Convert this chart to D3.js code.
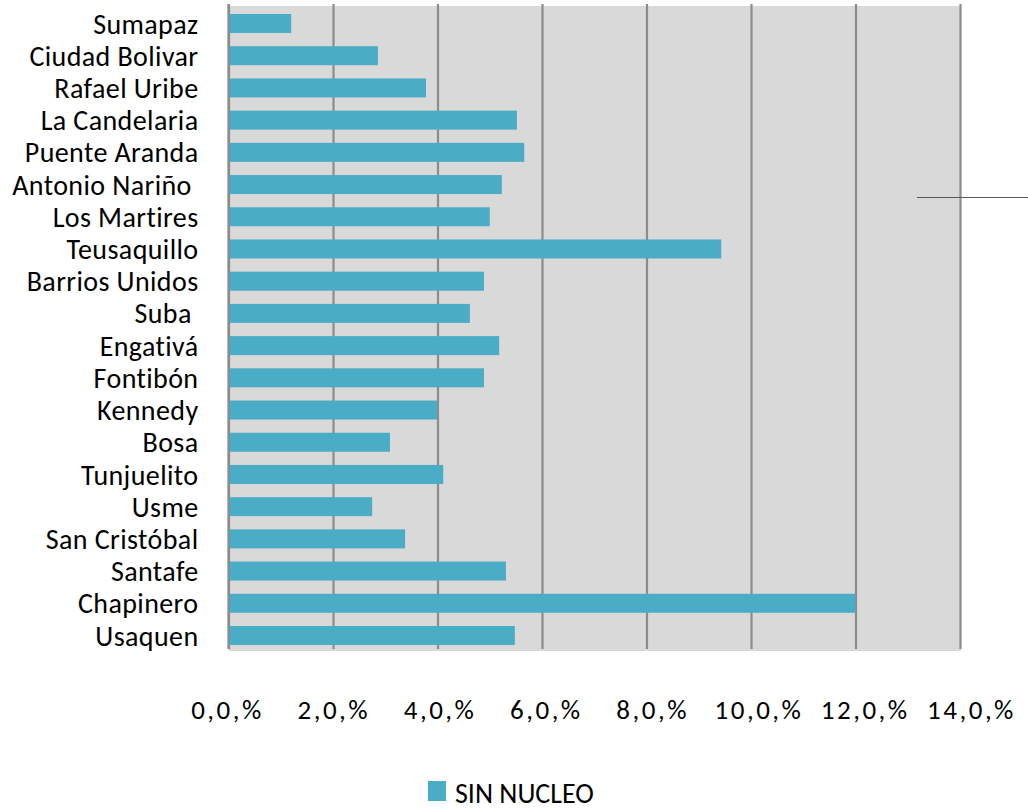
<!DOCTYPE html>
<html>
<head>
<meta charset="utf-8">
<script src="https://cdn.jsdelivr.net/npm/d3@7"></script>
<style>
  html, body { margin: 0; padding: 0; background: #ffffff; }
  svg { display: block; }
  text { font-family: Carlito, Lato, "Open Sans", sans-serif; fill: #000; }
</style>
</head>
<body>
<svg id="chart" width="1028" height="810"></svg>
<script>
const categories = ["Sumapaz", "Ciudad Bolivar", "Rafael Uribe", "La Candelaria", "Puente Aranda",
  "Antonio Nariño ", "Los Martires", "Teusaquillo", "Barrios Unidos", "Suba ",
  "Engativá", "Fontibón", "Kennedy", "Bosa", "Tunjuelito",
  "Usme", "San Cristóbal", "Santafe", "Chapinero", "Usaquen"];
const sinNucleo = [1.20, 2.86, 3.78, 5.52, 5.66,
  5.23, 5.00, 9.43, 4.89, 4.62,
  5.18, 4.89, 3.99, 3.09, 4.11,
  2.75, 3.38, 5.31, 12.0, 5.48];
const tickValues = [0, 2, 4, 6, 8, 10, 12, 14];
const tickLabels = ["0,0,%", "2,0,%", "4,0,%", "6,0,%", "8,0,%", "10,0,%", "12,0,%", "14,0,%"];
const seriesName = "SIN NUCLEO";

const svg = d3.select("#chart");
const plotLeft = 228.5, plotRight = 960, plotTop = 7.4, plotBottom = 651.6;
const FONT = "Carlito, Lato, 'Open Sans', sans-serif";

const x = d3.scaleLinear().domain([0, 14]).range([plotLeft, plotRight]);
// tick labels in the original are spread slightly wider than the gridlines
const xLabel = d3.scaleLinear().domain([0, 14]).range([227, 971]);
const y = d3.scaleBand().domain(categories).range([plotTop, plotBottom]).paddingInner(0.41).paddingOuter(0.205);

// plot background
svg.append("rect")
  .attr("x", plotLeft).attr("y", 6)
  .attr("width", plotRight - plotLeft + 1).attr("height", 645)
  .attr("fill", "#d9d9d9");

// gridlines
svg.append("g")
  .attr("transform", `translate(0,${649})`)
  .call(d3.axisBottom(x).tickValues(tickValues).tickSize(0).tickFormat(""))
  .call(g => g.select(".domain").remove())
  .call(g => g.selectAll(".tick line")
      .attr("y2", -645)
      .attr("stroke", "#8c8c8c").attr("stroke-width", 2.2));

// bars
svg.append("g").selectAll("rect")
  .data(categories)
  .join("rect")
  .attr("x", x(0))
  .attr("y", d => y(d))
  .attr("width", (d, i) => x(sinNucleo[i]) - x(0))
  .attr("height", y.bandwidth())
  .attr("fill", "#4bacc6");

// left axis line
svg.append("line")
  .attr("x1", x(0)).attr("x2", x(0))
  .attr("y1", 4).attr("y2", 649)
  .attr("stroke", "#8c8c8c").attr("stroke-width", 2.2);

// category labels
svg.append("g")
  .attr("transform", `translate(198.5,0)`)
  .call(d3.axisLeft(y).tickSize(0).tickPadding(0))
  .call(g => g.select(".domain").remove())
  .call(g => g.selectAll("text")
      .attr("font-size", 28)
      .attr("dy", "0.36em")
      .attr("letter-spacing", 0.4)
      .style("font-family", FONT)
      .attr("fill", "#000")
      .style("white-space", "pre"));

// x tick labels
svg.append("g")
  .attr("transform", `translate(0,719)`)
  .call(d3.axisBottom(xLabel).tickValues(tickValues).tickSize(0).tickPadding(0)
      .tickFormat((d, i) => tickLabels[i]))
  .call(g => g.select(".domain").remove())
  .call(g => g.selectAll("text")
      .attr("font-size", 27)
      .attr("dy", 0)
      .attr("letter-spacing", 2.5)
      .style("font-family", FONT)
      .attr("fill", "#000"));

// stray line
svg.append("line")
  .attr("x1", 917).attr("x2", 1028)
  .attr("y1", 197.5).attr("y2", 197.5)
  .attr("stroke", "#595959").attr("stroke-width", 1);

// legend
const legend = svg.append("g").attr("transform", "translate(428,781)");
legend.append("rect").attr("x", 0).attr("y", 0).attr("width", 18).attr("height", 20).attr("fill", "#4bacc6");
legend.append("text").attr("x", 27).attr("y", 21.5).attr("font-size", 28)
  .style("font-family", FONT).text(seriesName);
</script>
</body>
</html>
